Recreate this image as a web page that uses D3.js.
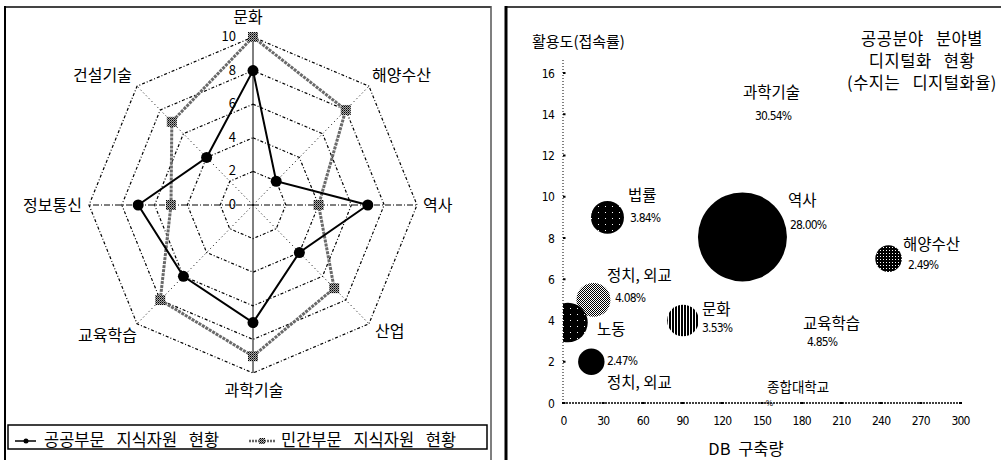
<!DOCTYPE html>
<html><head><meta charset="utf-8">
<script src="https://cdn.jsdelivr.net/npm/d3@7"></script>
<style>
body{margin:0;background:#fff;}
svg{display:block;}
text{font-family:"Noto Sans CJK KR","Noto Sans",sans-serif;fill:#000;}
</style></head><body>
<svg id="c" width="1001" height="460"></svg>
<script>
// ---------- Radar chart data ----------
const radarAxes = ["문화","해양수산","역사","산업","과학기술","교육학습","정보통신","건설기술"];
const publicValues  = [8, 2, 7, 4, 7, 6, 7, 4];
const privateValues = [10, 8, 4, 7, 9, 8, 5, 7];
const radarTicks = [0, 2, 4, 6, 8, 10];
const seriesNames = ["공공부문 지식자원 현황", "민간부문 지식자원 현황"];

// ---------- Bubble chart data ----------
const bubbleNames = ["역사", "법률", "해양수산", "정치, 외교", "노동", "문화", "정치, 외교"];
const bubbleDB    = [135.6, 33.6, 246, 23, 3.8, 90.7, 21.4];
const bubbleUse   = [8.05, 9.0, 7.0, 5.0, 3.9, 4.0, 2.0];
const bubbleRate  = [28.00, 3.84, 2.49, 4.08, 5.5, 3.53, 2.47];
const xTicks = [0, 30, 60, 90, 120, 150, 180, 210, 240, 270, 300];
const yTicks = [0, 2, 4, 6, 8, 10, 12, 14, 16];
// annotations (text, data-x, data-y)
const annText = ["과학기술","30.54%","법률","3.84%","역사","28.00%","해양수산","2.49%","정치, 외교","4.08%","노동","문화","3.53%","교육학습","4.85%","2.47%","정치, 외교","종합대학교"];
const annX    = [136, 145, 49.1, 50.6, 170, 171.5, 257, 260.7, 33.2, 39.3, 25.7, 105, 105, 181.4, 184.4, 33.2, 33.2, 154.2];
const annY    = [14.79, 13.72, 9.79, 8.78, 9.55, 8.44, 7.42, 6.5, 5.92, 4.9, 3.3, 4.27, 3.44, 3.59, 2.76, 1.82, 0.72, 0.53];
const titleLines = ["공공분야 분야별", "디지털화 현황", "(수지는 디지털화율)"];
const xTitle = "DB 구축량";
const yTitle = "활용도(접속률)";

// ---------- styles ----------
const narrow = '"Liberation Sans Narrow","DejaVu Sans Condensed","Liberation Sans",sans-serif';
const bubbleFills = ["#000", "url(#pSparse)", "url(#pChecker)", "url(#pGray)", "url(#pSparse)", "url(#pStripes)", "#000"];

const svg = d3.select("#c");
const defs = svg.append("defs");
function pat(id, w, h, draw){
  const p = defs.append("pattern").attr("id", id).attr("patternUnits","userSpaceOnUse").attr("width", w).attr("height", h);
  draw(p);
}
pat("pSparse", 7, 6, p => { p.append("rect").attr("width",7).attr("height",6).attr("fill","#000");
  p.append("rect").attr("x",3).attr("y",2).attr("width",1).attr("height",1).attr("fill","#fff"); });
pat("pChecker", 3, 3, p => { p.append("rect").attr("width",3).attr("height",3).attr("fill","#000");
  p.append("rect").attr("x",1).attr("y",1).attr("width",1).attr("height",1).attr("fill","#fff"); });
pat("pGray", 2, 2, p => { p.append("rect").attr("width",2).attr("height",2).attr("fill","#fff");
  p.append("rect").attr("width",1).attr("height",1).attr("fill","#000");
  p.append("rect").attr("x",1).attr("y",1).attr("width",1).attr("height",1).attr("fill","#000"); });
pat("pStripes", 3, 3, p => { p.append("rect").attr("width",3).attr("height",3).attr("fill","#fff");
  p.append("rect").attr("width",2).attr("height",3).attr("fill","#000"); });
pat("pHatch", 2, 2, p => { p.append("rect").attr("width",2).attr("height",2).attr("fill","#aaa");
  p.append("rect").attr("width",1).attr("height",1).attr("fill","#000");
  p.append("rect").attr("x",1).attr("y",1).attr("width",1).attr("height",1).attr("fill","#444"); });

// ---------- panels ----------
svg.append("line").attr("x1",5).attr("y1",7).attr("x2",491).attr("y2",7).attr("stroke","#444").attr("stroke-width",2);
svg.append("line").attr("x1",5).attr("y1",6).attr("x2",5).attr("y2",460).attr("stroke","#000").attr("stroke-width",2);
svg.append("line").attr("x1",491).attr("y1",6).attr("x2",491).attr("y2",460).attr("stroke","#555").attr("stroke-width",1.5);
svg.append("rect").attr("x",8).attr("y",425).attr("width",479).attr("height",24).attr("fill","none").attr("stroke","#000").attr("stroke-width",1.5);
svg.append("line").attr("x1",505).attr("y1",7).attr("x2",1001).attr("y2",7).attr("stroke","#444").attr("stroke-width",2);
svg.append("line").attr("x1",506).attr("y1",6).attr("x2",506).attr("y2",460).attr("stroke","#000").attr("stroke-width",3);

// ---------- radar ----------
const cx = 253, cy = 205;
const rX = d3.scaleLinear().domain([0, 10]).range([0, 164]);
const rY = d3.scaleLinear().domain([0, 10]).range([0, 168]);
const n = radarAxes.length;
const ang = i => i * 2 * Math.PI / n;
const pt = (i, v) => [cx + rX(v) * Math.sin(ang(i)), cy - rY(v) * Math.cos(ang(i))];
const radar = svg.append("g");

radarTicks.filter(t => t > 0).forEach(t => {
  radar.append("path")
    .attr("d", d3.line().curve(d3.curveLinearClosed)(radarAxes.map((a, i) => pt(i, t))))
    .attr("fill","none").attr("stroke","#000").attr("stroke-width",1.2)
    .attr("stroke-dasharray", "3,2,1,2");
});
radarAxes.forEach((a, i) => {
  const [x2, y2] = pt(i, 10);
  const l = radar.append("line").attr("x1",cx).attr("y1",cy).attr("x2",x2).attr("y2",y2)
    .attr("stroke","#000").attr("stroke-width",1);
  if (i === 2 || i === 6) l.attr("stroke-dasharray","6,2,1,2");
  else if (i % 2 === 1) l.attr("stroke-dasharray","1,3");
});
radarTicks.forEach(t => {
  radar.append("text").attr("x", cx - 17).attr("y", cy - rY(t) + 4)
    .attr("text-anchor","end").attr("font-size",13).text(t);
});
const labelPos = [[248,23,"middle"],[372,81,"start"],[423,211,"start"],[375,337,"start"],[254,396,"middle"],[137,341,"end"],[82,211,"end"],[132,81,"end"]];
radarAxes.forEach((a, i) => {
  radar.append("text").attr("x", labelPos[i][0]).attr("y", labelPos[i][1])
    .attr("text-anchor", labelPos[i][2]).attr("font-size",16).text(a);
});
const lineGen = d3.line().curve(d3.curveLinearClosed);
radar.append("path").attr("d", lineGen(privateValues.map((v, i) => pt(i, v))))
  .attr("fill","none").attr("stroke","#6a6a6a").attr("stroke-width",3).attr("stroke-dasharray","3,1");
radar.append("path").attr("d", lineGen(publicValues.map((v, i) => pt(i, v))))
  .attr("fill","none").attr("stroke","#000").attr("stroke-width",2);
radar.selectAll(".pm").data(privateValues).enter().append("rect")
  .attr("x", (v, i) => pt(i, v)[0] - 5).attr("y", (v, i) => pt(i, v)[1] - 5)
  .attr("width",10).attr("height",10).attr("fill","url(#pHatch)");
radar.selectAll(".cm").data(publicValues).enter().append("circle")
  .attr("cx", (v, i) => pt(i, v)[0]).attr("cy", (v, i) => pt(i, v)[1])
  .attr("r",5.5).attr("fill","#000");

// legend
const lg = svg.append("g");
lg.append("line").attr("x1",15).attr("y1",441).attr("x2",36).attr("y2",441).attr("stroke","#000").attr("stroke-width",1.5);
lg.append("circle").attr("cx",26).attr("cy",441).attr("r",2.5).attr("fill","#000");
lg.append("text").attr("x",44).attr("y",446).attr("font-size",16.5).attr("word-spacing",8).text(seriesNames[0]);
lg.append("line").attr("x1",249).attr("y1",441).attr("x2",276).attr("y2",441).attr("stroke","#666").attr("stroke-width",2.5).attr("stroke-dasharray","2,1");
lg.append("rect").attr("x",259).attr("y",438).attr("width",6).attr("height",6).attr("fill","url(#pHatch)");
lg.append("text").attr("x",281).attr("y",446).attr("font-size",16.5).attr("word-spacing",8).text(seriesNames[1]);

// ---------- bubble chart ----------
const x = d3.scaleLinear().domain([0, 300]).range([563, 960]);
const y = d3.scaleLinear().domain([0, 16]).range([403, 73]);
const r = d3.scaleSqrt().domain([0, 28]).range([0, 44.5]);
const bc = svg.append("g");

defs.append("clipPath").attr("id","plotClip").append("rect")
  .attr("x", x(0)).attr("y", 40).attr("width", 440).attr("height", 380);

const xAxis = d3.axisBottom(x).tickValues(xTicks).tickSize(0).tickPadding(0);
const xg = bc.append("g").attr("transform", `translate(0,${y(0)})`).call(xAxis);
xg.select(".domain").remove();
xg.selectAll("text").attr("font-size",12).attr("letter-spacing",-0.8).attr("dy",0).attr("y",22).style("font-family",narrow);
bc.append("line").attr("x1", x(0)).attr("x2", x(300)).attr("y1", y(0)).attr("y2", y(0))
  .attr("stroke","#000").attr("stroke-width",1.3).attr("stroke-dasharray","2,1");

const yAxis = d3.axisLeft(y).tickValues(yTicks).tickSize(0).tickPadding(0);
const yg = bc.append("g").attr("transform", `translate(${x(0)},0)`).call(yAxis);
yg.select(".domain").remove();
yg.selectAll("text").attr("x",-9).attr("dy","0.35em").attr("font-size",12).attr("letter-spacing",-0.8).style("font-family",narrow);
bc.append("line").attr("x1", x(0)).attr("x2", x(0)).attr("y1", y(0)).attr("y2", 60)
  .attr("stroke","#000").attr("stroke-width",1).attr("stroke-dasharray","1,2");
yTicks.forEach(t => bc.append("rect").attr("x", x(0)).attr("y", y(t) - 1).attr("width",2.5).attr("height",2).attr("fill","#000"));
xTicks.forEach(t => bc.append("rect").attr("x", x(t) - 1).attr("y", y(0) - 1).attr("width",3).attr("height",2).attr("fill","#000"));

bc.append("g").attr("clip-path","url(#plotClip)").selectAll("circle").data(bubbleNames).enter().append("circle")
  .attr("cx", (d, i) => x(bubbleDB[i])).attr("cy", (d, i) => y(bubbleUse[i]))
  .attr("r", (d, i) => r(bubbleRate[i])).attr("fill", (d, i) => bubbleFills[i]);

bc.append("text").attr("x", x(156)).attr("y", y(0) + 3).attr("text-anchor","middle").attr("font-size",8).text("%");

annText.forEach((t, i) => {
  const isPct = t.endsWith("%");
  const el = bc.append("text").attr("x", x(annX[i])).attr("y", y(annY[i])).text(t);
  if (isPct) el.attr("font-size",12).attr("letter-spacing",-0.8).style("font-family",narrow);
  else if (t === "종합대학교") el.attr("font-size",13.5);
  else el.attr("font-size",15.5);
});

titleLines.forEach((t, i) => {
  bc.append("text").attr("x", 922).attr("y", 45 + i * 22).attr("text-anchor","middle")
    .attr("font-size",16.5).attr("letter-spacing",0.5).attr("word-spacing",8).text(t);
});
bc.append("text").attr("x", 746).attr("y", 455).attr("text-anchor","middle").attr("font-size",16.5).attr("word-spacing",4).text(xTitle);
bc.append("text").attr("x", 532).attr("y", 47).attr("font-size",15).text(yTitle);
</script>
</body></html>
